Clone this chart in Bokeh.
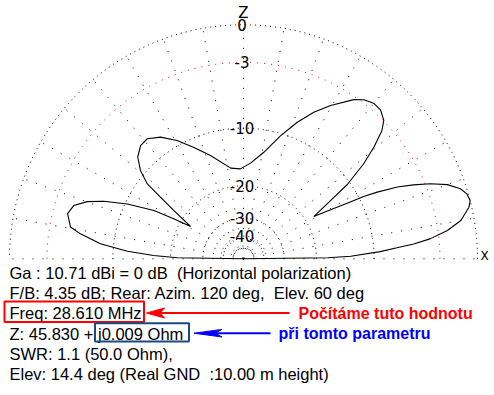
import numpy as np
from bokeh.plotting import figure
from bokeh.models import Range1d
from bokeh.core.properties import value
from bokeh.embed import file_html
from bokeh.resources import INLINE

# ---------------- data ----------------
elevation_deg = [0, 0.7, 1.4, 3.0, 4.1, 5.0, 6.1, 7.9, 10.0, 12.9,
                 14.4, 16.2, 17.9, 20.0, 21.9, 23.5, 25.0, 26.5, 27.4, 28.2,
                 29.4, 31.0, 33.8, 35.6, 38.3, 40.6, 42.8, 44.6, 47.3, 50.1,
                 52.9, 55.3, 60.4, 64.4, 68.5, 73.3, 79.2, 85.8, 92.0, 98.0,
                 107.7, 114.0, 119.3, 124.3, 128.7, 132.3, 136.1, 139.4, 142.1, 143.4,
                 145.3, 148.6, 150.1, 151.7, 154.7, 157.6, 159.9, 162.6, 165.6, 169.6,
                 171.3, 174.0, 176.3, 177.9, 179.1, 180]
gain_db = [-99, -17.5, -13.4, -9.2, -7.2, -5.4, -3.8, -2.2, -1.0, -0.2,
           0.0, -0.1, -0.45, -1.3, -2.6, -4.0, -5.5, -7.7, -9.4, -11.8,
           -14.6, -18.0, -13.8, -10.4, -7.3, -5.3, -3.7, -2.95, -2.5, -2.45,
           -2.75, -3.25, -4.85, -6.25, -8.0, -10.3, -13.2, -15.3, -16.4, -16.1,
           -13.2, -11.2, -9.35, -7.95, -7.2, -7.3, -8.0, -9.35, -11.2, -14.0,
           -17.4, -22.8, -18.3, -14.3, -10.3, -7.5, -5.85, -4.7, -4.35, -4.9,
           -6.0, -8.35, -12.0, -16.4, -21.7, -99]

grid_db = [0, -3, -10, -20, -30, -40, -50]
grid_labels = ["0", "-3", "-10", "-20", "-30", "-40", ""]
spoke_deg = list(range(0, 181, 10))
axis_names = ["Z", "X"]

NB = "\u00a0"
info_lines = [
    "Ga : 10.71 dBi = 0 dB " + NB + "(Horizontal polarization)",
    "F/B: 4.35 dB; Rear: Azim. 120 deg, " + NB + "Elev. 60 deg",
    "Freq: 28.610 MHz",
    "Z: 45.830 + j0.009 Ohm",
    "SWR: 1.1 (50.0 Ohm),",
    "Elev: 14.4 deg (Real GND " + NB + ":10.00 m height)",
]
note_red = "Počítáme tuto hodnotu"
note_blue = "při tomto parametru"

# ---------------- layout constants (pixels) ----------------
W, H = 494, 395
CX, CY, R = 243.0, 258.3, 234.0
FONT = "Liberation Sans"
TXT_SHIFT = -5.0


def arrl(db):
    return 0.89 ** (-np.asarray(db, dtype=float) / 2.0)


def to_xy(deg, rho):
    a = np.radians(np.asarray(deg, dtype=float))
    return CX + R * rho * np.cos(a), CY - R * rho * np.sin(a)


p = figure(width=W, height=H, x_range=Range1d(0, W), y_range=Range1d(H, 0),
           output_backend="svg", toolbar_location=None, min_border=0,
           x_axis_type=None, y_axis_type=None)
p.grid.visible = False
p.outline_line_color = None
p.background_fill_color = "white"
p.border_fill_color = "white"

# spokes
for d in spoke_deg:
    xs, ys = to_xy([d, d], np.array([0.0, 1.0]))
    p.line(xs, ys, line_color="black", line_width=1, line_dash="1 9")

# circles
t = np.linspace(0, 180, 361)
for db in grid_db:
    xs, ys = to_xy(t, np.full_like(t, arrl(db)))
    col = "#ff0000" if db == -3 else "black"
    p.line(xs, ys, line_color=col, line_width=1, line_dash="1 4" if db != -3 else "1 6")

# circle labels
lab_y = [CY - R * float(arrl(db)) for db in grid_db]
p.text(x=[CX - 1.5] * len(grid_db), y=lab_y, text=grid_labels,
       text_align="center", text_baseline="middle",
       text_font=value("DejaVu Sans"), text_font_size="15px", text_color="black")

# axis names
p.text(x=[CX], y=[CY - R - 12], text=[axis_names[0]], text_align="center",
       text_baseline="middle", text_font=value("DejaVu Sans"),
       text_font_size="15px", text_color="black")
p.text(x=[CX + R + 7], y=[CY - 2.5], text=[axis_names[1]], text_align="center",
       text_baseline="middle", text_font=value("DejaVu Sans"),
       text_font_size="12px", text_color="black")

# pattern
px, py = to_xy(elevation_deg, arrl(gain_db))
p.line(px, py, line_color="black", line_width=1.1)

# info text
base_y = [277 + TXT_SHIFT, 297 + TXT_SHIFT, 317.5 + TXT_SHIFT,
          338 + TXT_SHIFT, 358 + TXT_SHIFT, 378 + TXT_SHIFT]
p.text(x=[9] * len(info_lines), y=base_y, text=info_lines, text_align="left",
       text_baseline="alphabetic", text_font=value(FONT),
       text_font_size="16.5px", text_color="black")

# boxes
p.quad(left=[4], right=[143.5], top=[301], bottom=[321.5], fill_alpha=0,
       line_color="#ff0000", line_width=2)
p.quad(left=[94.5], right=[188.5], top=[322.8], bottom=[341], fill_alpha=0,
       line_color="#1b4a7e", line_width=2)


def arrow(x_tip, x_end, y, head_len, head_half, color):
    p.line([x_tip + head_len * 0.6, x_end], [y, y], line_color=color, line_width=2)
    p.patch([x_tip, x_tip + head_len, x_tip + head_len * 0.75, x_tip + head_len],
            [y, y - head_half, y, y + head_half],
            fill_color=color, line_color=color, line_width=1)


arrow(146, 289, 312.5, 18, 5, "#ff0000")
arrow(193.5, 270, 332.7, 28, 3.8, "#0000ff")

p.text(x=[298], y=[317.5 + TXT_SHIFT], text=[note_red], text_align="left",
       text_baseline="alphabetic", text_font=value(FONT), text_font_style="bold",
       text_font_size="16px", text_color="#ff0000")
p.text(x=[278], y=[338 + TXT_SHIFT], text=[note_blue], text_align="left",
       text_baseline="alphabetic", text_font=value(FONT), text_font_style="bold",
       text_font_size="16px", text_color="#0000ff")

open("out.html", "w").write(file_html(p, INLINE))
